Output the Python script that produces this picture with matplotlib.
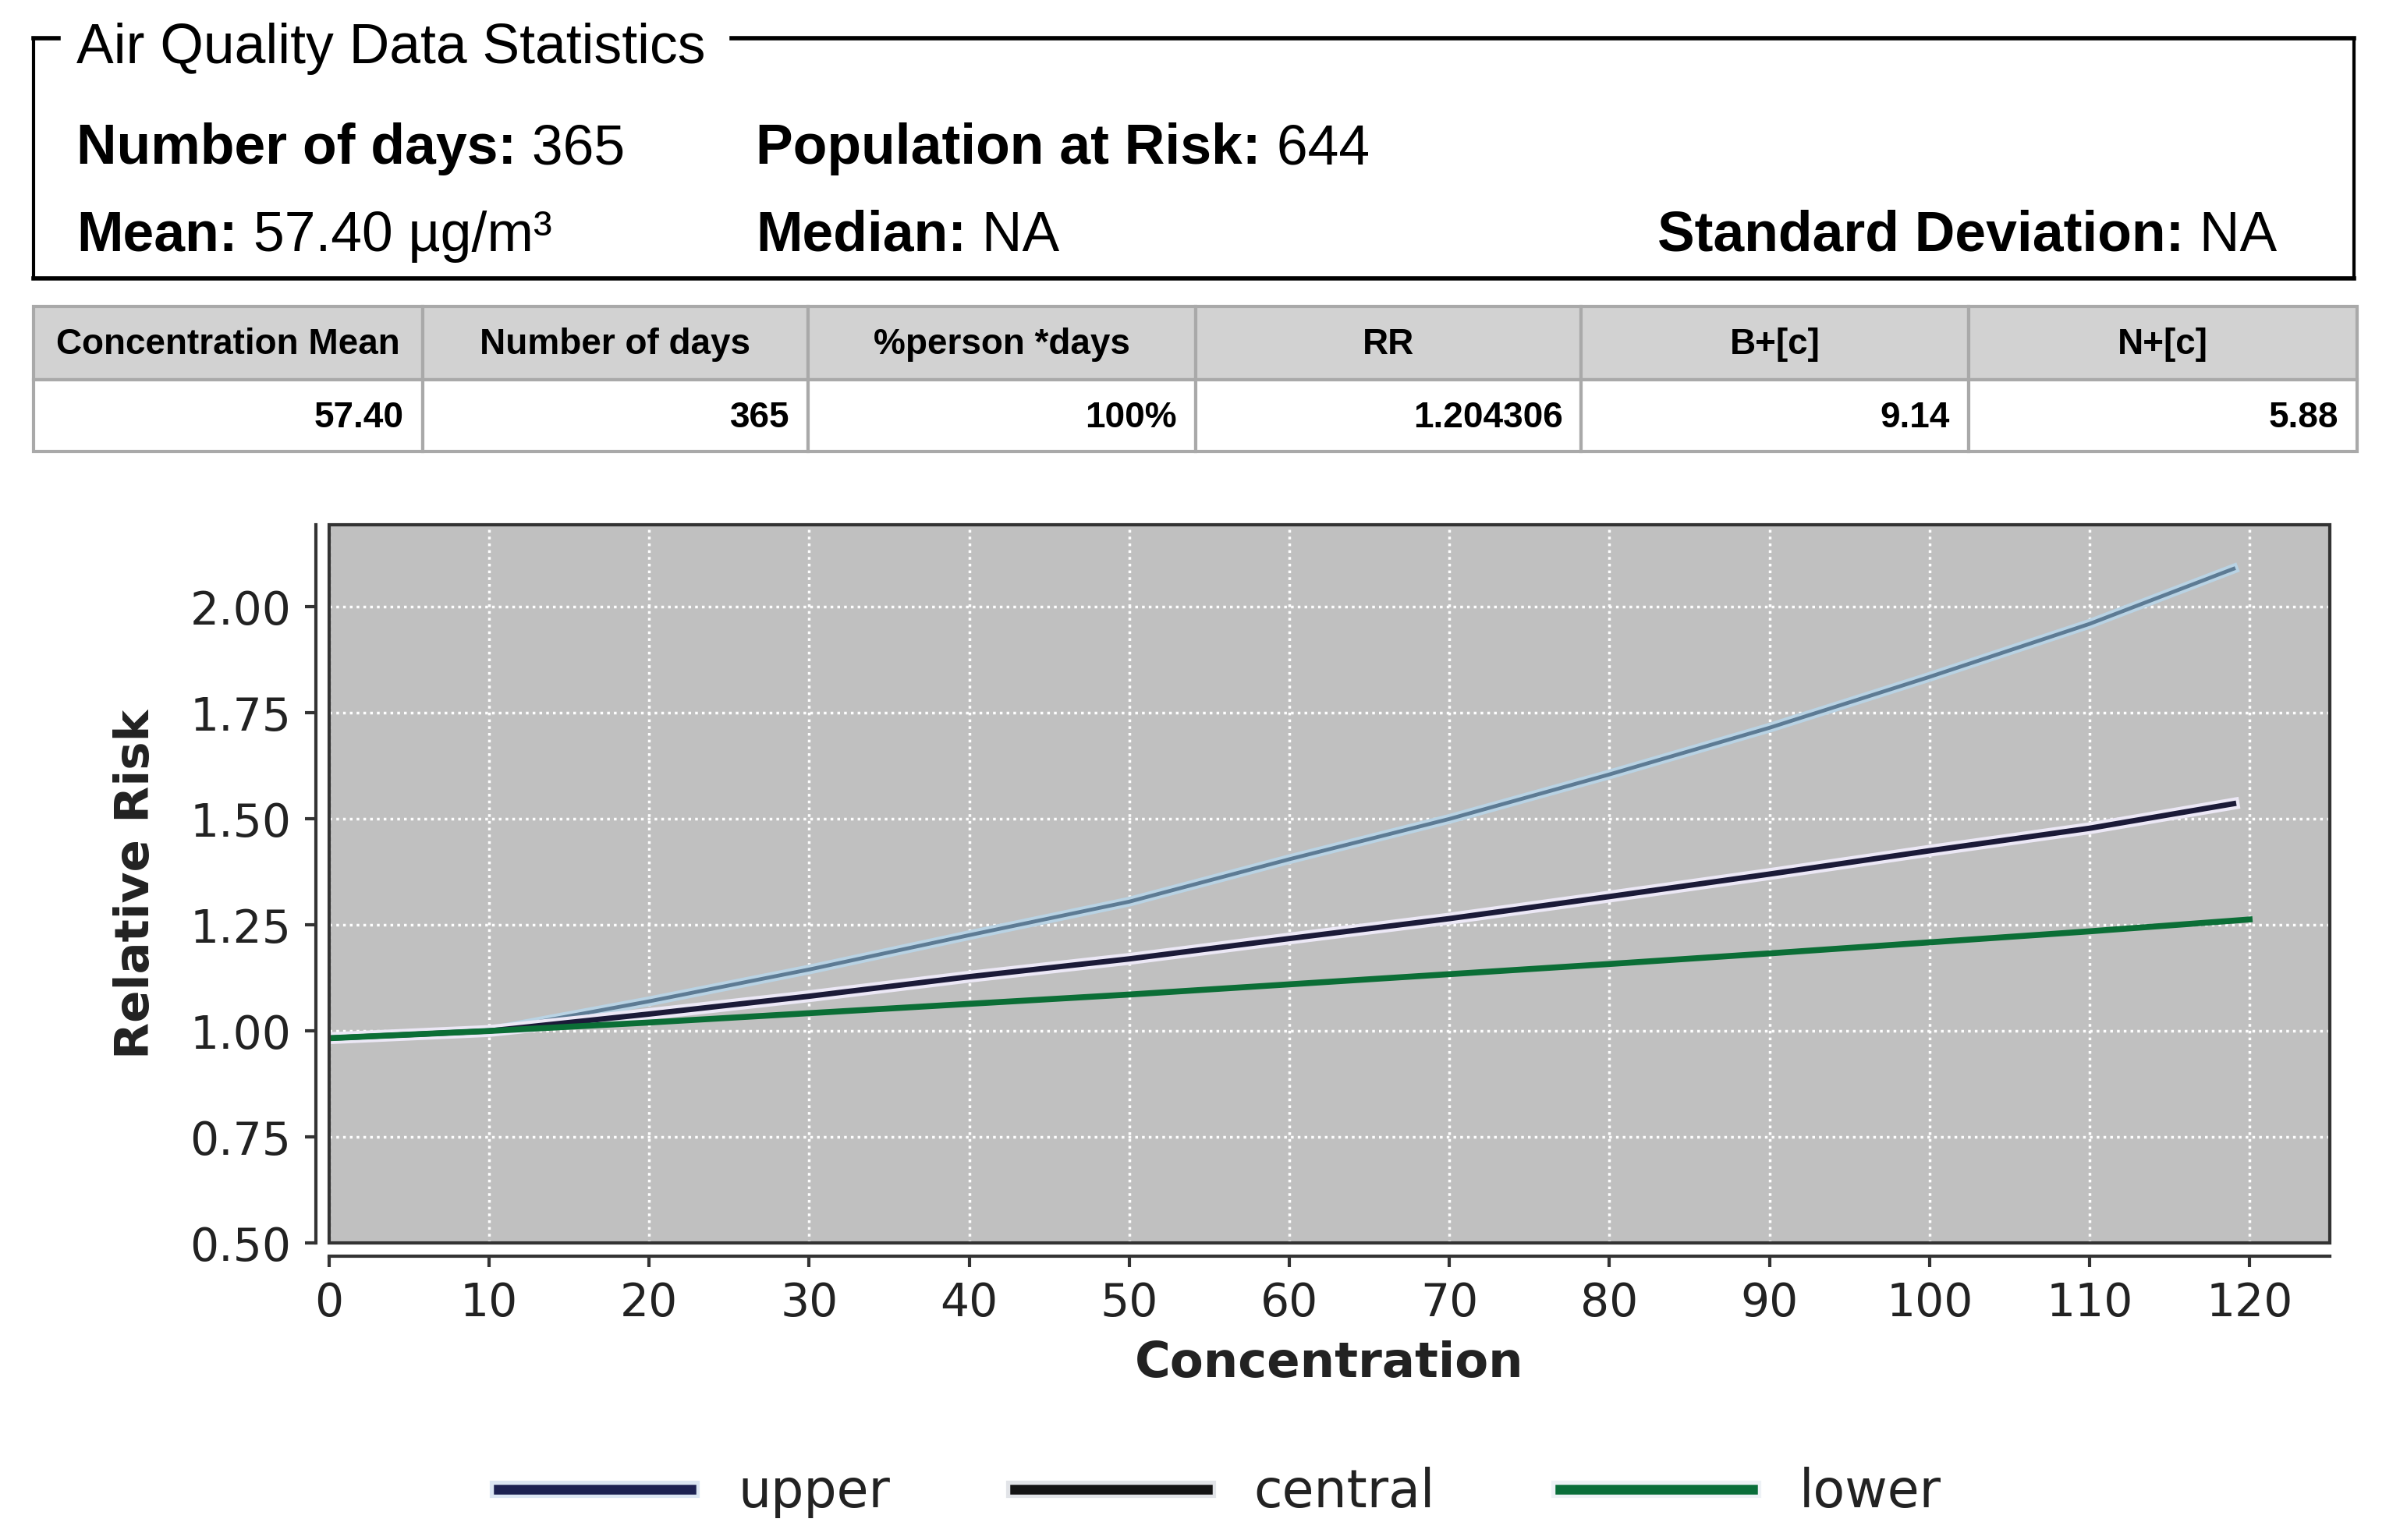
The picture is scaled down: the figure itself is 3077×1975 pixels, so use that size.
import matplotlib
matplotlib.use('Agg')
import matplotlib.pyplot as plt
import matplotlib.patheffects as pe
from matplotlib.lines import Line2D
from matplotlib.patches import Rectangle

# summary box values
n_days = '365'
pop_risk = '644'
mean_txt = '57.40 µg/m³'
median_txt = 'NA'
std_txt = 'NA'

# table
tab_header = ['Concentration Mean', 'Number of days', '%person *days', 'RR', 'B+[c]', 'N+[c]']
tab_row = ['57.40', '365', '100%', '1.204306', '9.14', '5.88']

# curves
conc = [0, 10, 20, 30, 40, 50, 60, 70, 80, 90, 100, 110, 119]
conc_lower = [0, 10, 20, 30, 40, 50, 60, 70, 80, 90, 100, 110, 120]
rr_upper = [0.983, 1.000, 1.070, 1.145, 1.226, 1.305, 1.405, 1.500, 1.605, 1.715, 1.835, 1.960, 2.090]
rr_central = [0.983, 1.000, 1.040, 1.082, 1.128, 1.170, 1.218, 1.265, 1.317, 1.370, 1.425, 1.478, 1.536]
rr_lower = [0.983, 1.000, 1.020, 1.042, 1.064, 1.086, 1.110, 1.134, 1.158, 1.183, 1.209, 1.235, 1.263]

xticks = list(range(0, 121, 10))
yticks = [0.50, 0.75, 1.00, 1.25, 1.50, 1.75, 2.00]

W, H = 3077, 1975
fig = plt.figure(figsize=(W / 100, H / 100), dpi=100)
r = fig.canvas.get_renderer()

def fx(x):
    return x / 1568.0

def fy(y):
    return 1 - y / 1006.0

# ---- top box ----
box_kw = dict(color='black', lw=4, transform=fig.transFigure, solid_capstyle='projecting')
fig.add_artist(Line2D([fx(22), fx(38)], [fy(25), fy(25)], **box_kw))
fig.add_artist(Line2D([fx(478), fx(1538)], [fy(25), fy(25)], **box_kw))
fig.add_artist(Line2D([fx(22), fx(22)], [fy(25), fy(182)], color='black', lw=3, transform=fig.transFigure))
fig.add_artist(Line2D([fx(1538), fx(1538)], [fy(25), fy(182)], color='black', lw=3, transform=fig.transFigure))
fig.add_artist(Line2D([fx(22), fx(1538)], [fy(182), fy(182)], **box_kw))

fig.text(fx(50), fy(32), 'Air Quality Data Statistics', family='Liberation Sans',
         fontsize=51.5, va='center', ha='left')

def label_value(x, y, lab, val):
    t = fig.text(x, y, lab, family='Liberation Sans', fontweight='bold',
                 fontsize=51.5, va='baseline', ha='left')
    bb = t.get_window_extent(r)
    fig.text(bb.x1 / W, y, ' ' + val, family='Liberation Sans',
             fontsize=51.5, va='baseline', ha='left')

label_value(fx(50), fy(107), 'Number of days:', n_days)
label_value(fx(494), fy(107), 'Population at Risk:', pop_risk)
label_value(fx(50), fy(164), 'Mean:', mean_txt)
label_value(fx(494), fy(164), 'Median:', median_txt)
label_value(fx(1083), fy(164), 'Standard Deviation:', std_txt)

# ---- table ----
col_edges = [22, 276, 528, 781, 1033, 1286, 1540]
for i in range(len(tab_header)):
    x0, x1 = col_edges[i], col_edges[i + 1]
    fig.add_artist(Rectangle((fx(x0), fy(248)), fx(x1) - fx(x0), fy(200) - fy(248),
                             transform=fig.transFigure, fc='#d2d2d2', ec='#a9a9a9', lw=3))
    fig.add_artist(Rectangle((fx(x0), fy(295)), fx(x1) - fx(x0), fy(248) - fy(295),
                             transform=fig.transFigure, fc='white', ec='#a9a9a9', lw=3))
    fig.text(fx((x0 + x1) / 2), fy(225), tab_header[i], family='Liberation Sans',
             fontweight='bold', fontsize=33, ha='center', va='center')
    fig.text(fx(x1 - 12), fy(273), tab_row[i], family='Liberation Sans',
             fontweight='bold', fontsize=33, ha='right', va='center')

# ---- chart ----
ax = fig.add_axes([fx(215), fy(812), fx(1522) - fx(215), fy(343) - fy(812)])
ax.set_facecolor('#c0c0c0')

ax.plot(conc, rr_upper, color='#5d7b94', lw=3.5,
        path_effects=[pe.Stroke(linewidth=9, foreground='#b9d3e4'), pe.Normal()])
ax.plot(conc, rr_central, color='#1b1a38', lw=5,
        path_effects=[pe.Stroke(linewidth=11, foreground='#ece8f6'), pe.Normal()])
ax.plot(conc_lower, rr_lower, color='#0b6e36', lw=5.5)

ax.set_xlim(0, 125)
ax.set_ylim(0.50, 2.193)
ax.set_xticks(xticks)
ax.set_yticks(yticks)
ax.set_yticklabels(['%.2f' % v for v in yticks])
ax.grid(True, color='white', ls=(0, (1, 1.5)), lw=2.5)
ax.set_axisbelow(True)

for s in ['top', 'right']:
    ax.spines[s].set_visible(False)
for s in ['left', 'bottom']:
    ax.spines[s].set_position(('outward', 12))
    ax.spines[s].set_color('#333333')
    ax.spines[s].set_linewidth(3)
ax.spines['left'].set_bounds(0.50, 2.193)
ax.add_patch(Rectangle((0, 0), 1, 1, transform=ax.transAxes, fill=False,
                       ec='#333333', lw=3, clip_on=False, zorder=5))

ax.tick_params(axis='both', labelsize=42, length=10, width=3, color='#333333',
               labelcolor='#222222', pad=13)
ax.set_ylabel('Relative Risk', fontsize=44, fontweight='bold', color='#222222', labelpad=28)
ax.set_xlabel('Concentration', fontsize=45, fontweight='bold', color='#222222', labelpad=14)

handles = [
    Line2D([], [], color='#1c2152', lw=9, path_effects=[pe.Stroke(linewidth=16, foreground='#dbe6f3'), pe.Normal()]),
    Line2D([], [], color='#141414', lw=9, path_effects=[pe.Stroke(linewidth=16, foreground='#e2e4e8'), pe.Normal()]),
    Line2D([], [], color='#0a6e3a', lw=9, path_effects=[pe.Stroke(linewidth=16, foreground='#eef2f6'), pe.Normal()]),
]
fig.legend(handles, ['upper', 'central', 'lower'], loc='center', bbox_to_anchor=(fx(797), fy(975)),
           ncol=3, frameon=False, fontsize=48, handlelength=3.7, handletextpad=0.9,
           columnspacing=2.4, labelcolor='#222222')

fig.savefig('out.png', dpi=100)
